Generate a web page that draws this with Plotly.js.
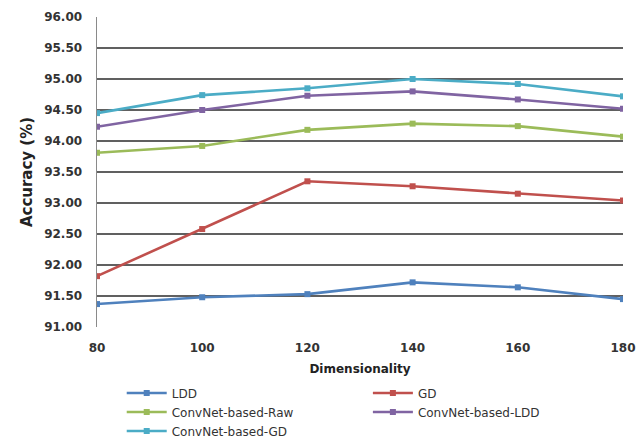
<!DOCTYPE html>
<html>
<head>
<meta charset="utf-8">
<script src="https://cdn.plot.ly/plotly-3.0.1.min.js"></script>
<style>html,body{margin:0;padding:0;background:#fff;}#chart{width:644px;height:440px;}</style>
</head>
<body>
<div id="chart"></div>
<script>
var dims = [80, 100, 120, 140, 160, 180];
var ldd = [91.37, 91.48, 91.53, 91.72, 91.64, 91.45];
var gd = [91.82, 92.58, 93.35, 93.27, 93.15, 93.04];
var convRaw = [93.81, 93.92, 94.18, 94.28, 94.24, 94.07];
var convLdd = [94.23, 94.50, 94.73, 94.80, 94.67, 94.52];
var convGd = [94.45, 94.74, 94.85, 95.00, 94.92, 94.72];
var yTicks = [91, 91.5, 92, 92.5, 93, 93.5, 94, 94.5, 95, 95.5, 96];
var yTickText = ["91.00","91.50","92.00","92.50","93.00","93.50","94.00","94.50","95.00","95.50","96.00"];

function tr(name, y, color, legend) {
  return {
    x: dims, y: y, name: name, type: 'scatter', mode: 'lines+markers',
    line: {color: color, width: 2.6},
    marker: {symbol: 'square', size: 6, color: color},
    legend: legend
  };
}
var data = [
  tr('LDD', ldd, '#4f81bd', 'legend'),
  tr('GD', gd, '#c0504d', 'legend2'),
  tr('ConvNet-based-Raw', convRaw, '#9bbb59', 'legend'),
  tr('ConvNet-based-LDD', convLdd, '#8064a2', 'legend2'),
  tr('ConvNet-based-GD', convGd, '#4bacc6', 'legend')
];
var fam = 'DejaVu Sans, Verdana, sans-serif';
var legFont = {family: fam, size: 12, color: '#333'};
var layout = {
  width: 644, height: 440,
  margin: {l: 97, r: 21, t: 17, b: 113, autoexpand: false},
  paper_bgcolor: '#fff', plot_bgcolor: '#fff',
  font: {family: fam, color: '#333'},
  xaxis: {
    range: [80, 180], tickvals: dims, ticktext: dims.map(String),
    showgrid: false, zeroline: false, showline: false,
    tickfont: {size: 12, weight: 'bold', color: '#333'},
    ticks: '', ticklen: 0, ticklabelstandoff: 12,
    title: {text: 'Dimensionality', font: {size: 12, weight: 'bold', color: '#222'}, standoff: 10}
  },
  yaxis: {
    range: [91, 96], tickvals: yTicks, ticktext: yTickText,
    showgrid: true, gridcolor: '#606060', gridwidth: 1.6,
    zeroline: false, showline: true, linecolor: '#8a8a8a', linewidth: 1.5,
    tickfont: {size: 12, weight: 'bold', color: '#333'},
    ticks: '', ticklabelstandoff: 11,
    title: {text: 'Accuracy (%)', font: {size: 15, weight: 'bold', color: '#222'}, standoff: 8}
  },
  legend: {x: 0.047, y: -0.166, xanchor: 'left', yanchor: 'top', orientation: 'v',
    font: legFont, bgcolor: 'rgba(0,0,0,0)', tracegroupgap: 0, itemwidth: 40},
  legend2: {x: 0.515, y: -0.166, xanchor: 'left', yanchor: 'top', orientation: 'v',
    font: legFont, bgcolor: 'rgba(0,0,0,0)', tracegroupgap: 0, itemwidth: 40},
  showlegend: true
};
Plotly.newPlot('chart', data, layout, {displayModeBar: false, staticPlot: true});
</script>
</body>
</html>
